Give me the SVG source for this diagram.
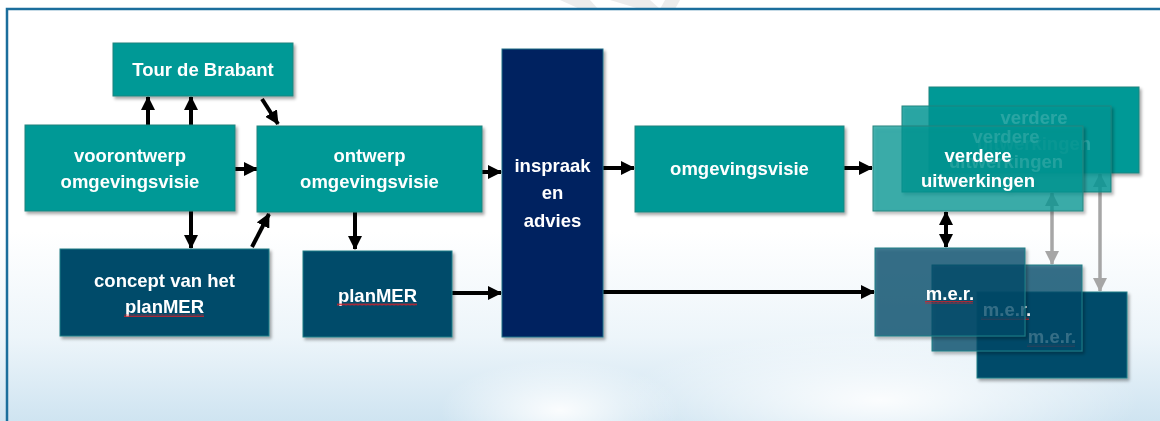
<svg xmlns="http://www.w3.org/2000/svg" width="1160" height="421" viewBox="0 0 1160 421">
<defs>
<style>
.t{font-family:"Liberation Sans",Arial,sans-serif;font-weight:bold;font-size:18.5px;fill:#fff;text-anchor:middle}
.teal{fill:#009996;stroke:#23847f;stroke-width:1}
.dark{fill:#004b6b;stroke:#1f7f86;stroke-width:1}
.navy{fill:#002060;stroke:#1f6f86;stroke-width:1}
.a{stroke:#000;stroke-width:4;fill:none}
.g{stroke:#a6a6a6;stroke-width:3.5;fill:none}
.sq{fill:url(#squig)}
</style>
<linearGradient id="bg" x1="0" y1="0" x2="0" y2="1">
<stop offset="0" stop-color="#ffffff"/>
<stop offset="0.55" stop-color="#ffffff"/>
<stop offset="0.8" stop-color="#edf5fa"/>
<stop offset="1" stop-color="#cfe4f1"/>
</linearGradient>
<radialGradient id="cl" cx="0.5" cy="0.5" r="0.5">
<stop offset="0" stop-color="#ffffff" stop-opacity="0.9"/>
<stop offset="1" stop-color="#ffffff" stop-opacity="0"/>
</radialGradient>
<filter id="sh" x="-10%" y="-10%" width="125%" height="130%">
<feDropShadow dx="2" dy="2.5" stdDeviation="1.5" flood-color="#000" flood-opacity="0.35"/>
</filter>
<marker id="ah" viewBox="0 0 14 14" refX="13" refY="7" markerWidth="14" markerHeight="14" markerUnits="userSpaceOnUse" orient="auto-start-reverse">
<path d="M0,0 L14,7 L0,14 z" fill="#000"/>
</marker>
<marker id="gh" viewBox="0 0 14 14" refX="13" refY="7" markerWidth="14" markerHeight="14" markerUnits="userSpaceOnUse" orient="auto-start-reverse">
<path d="M0,0 L14,7 L0,14 z" fill="#a6a6a6"/>
</marker>
<pattern id="squig" width="4" height="3" patternUnits="userSpaceOnUse">
<polyline points="0,2.5 1,0.5 2,2.5 3,0.5 4,2.5" fill="none" stroke="#d0222a" stroke-width="0.8"/>
</pattern>
</defs>

<!-- background -->
<rect x="0" y="0" width="1160" height="421" fill="url(#bg)"/>
<ellipse cx="880" cy="400" rx="260" ry="70" fill="url(#cl)"/>
<ellipse cx="560" cy="410" rx="120" ry="50" fill="url(#cl)"/>
<path d="M560,0 L580,9 L598,9 L590,0 Z M610,0 L640,9 L660,9 L650,0 Z M665,0 L660,9 L675,9 L680,0 Z" fill="#ececec"/>
<path d="M7,421 L7,9 L1160,9" fill="none" stroke="#1b6e9c" stroke-width="2.5"/>

<!-- connectors -->
<g id="connectors">
<line class="a" x1="148" y1="125" x2="148" y2="97" marker-end="url(#ah)"/>
<line class="a" x1="191" y1="125" x2="191" y2="97" marker-end="url(#ah)"/>
<line class="a" x1="262" y1="99" x2="278" y2="124" marker-end="url(#ah)"/>
<line class="a" x1="235" y1="169" x2="257" y2="169" marker-end="url(#ah)"/>
<line class="a" x1="191" y1="211" x2="191" y2="248" marker-end="url(#ah)"/>
<line class="a" x1="252" y1="247" x2="269" y2="214" marker-end="url(#ah)"/>
<line class="a" x1="355" y1="212" x2="355" y2="249" marker-end="url(#ah)"/>
<line class="a" x1="452" y1="293" x2="501" y2="293" marker-end="url(#ah)"/>
<line class="a" x1="482" y1="172" x2="501" y2="172" marker-end="url(#ah)"/>
<line class="a" x1="603" y1="168" x2="634" y2="168" marker-end="url(#ah)"/>
<line class="a" x1="844" y1="168" x2="872" y2="168" marker-end="url(#ah)"/>
<line class="a" x1="603" y1="292" x2="874" y2="292" marker-end="url(#ah)"/>
<line class="a" x1="946" y1="212" x2="946" y2="247" marker-start="url(#ah)" marker-end="url(#ah)"/>
<line class="g" x1="1052" y1="193" x2="1052" y2="264" marker-start="url(#gh)" marker-end="url(#gh)"/>
<line class="g" x1="1100" y1="174" x2="1100" y2="291" marker-start="url(#gh)" marker-end="url(#gh)"/>
</g>

<!-- nodes -->
<g id="tour" filter="url(#sh)">
<rect class="teal" x="113" y="43" width="180" height="53"/>
<text class="t" x="203" y="76">Tour de Brabant</text>
</g>
<g id="voorontwerp" filter="url(#sh)">
<rect class="teal" x="25" y="125" width="210" height="86"/>
<text class="t" x="130" y="162">voorontwerp</text>
<text class="t" x="130" y="188">omgevingsvisie</text>
</g>
<g id="ontwerp" filter="url(#sh)">
<rect class="teal" x="257" y="126" width="225" height="86"/>
<text class="t" x="369.5" y="162">ontwerp</text>
<text class="t" x="369.5" y="188">omgevingsvisie</text>
</g>
<g id="concept" filter="url(#sh)">
<rect class="dark" x="60" y="249" width="209" height="87"/>
<text class="t" x="164.5" y="287">concept van het</text>
<text class="t" x="164.5" y="313">planMER</text>
<rect class="sq" x="124" y="314" width="80" height="3"/>
</g>
<g id="planmer" filter="url(#sh)">
<rect class="dark" x="303" y="251" width="149" height="86"/>
<text class="t" x="377.5" y="302">planMER</text>
<rect class="sq" x="337" y="303" width="80" height="3"/>
</g>
<g id="inspraak" filter="url(#sh)">
<rect class="navy" x="502" y="49" width="101" height="288"/>
<text class="t" x="552.5" y="172">inspraak</text>
<text class="t" x="552.5" y="199">en</text>
<text class="t" x="552.5" y="227">advies</text>
</g>
<g id="omgevingsvisie" filter="url(#sh)">
<rect class="teal" x="635" y="126" width="209" height="86"/>
<text class="t" x="739.5" y="175">omgevingsvisie</text>
</g>

<g id="verdere3" filter="url(#sh)">
<rect class="teal" x="929" y="87" width="210" height="86"/>
<text class="t" x="1034" y="124">verdere</text>
<text class="t" x="1034" y="150">uitwerkingen</text>
</g>
<g id="verdere2" filter="url(#sh)">
<rect x="902" y="106" width="209" height="86" fill="#009996" fill-opacity="0.78" stroke="#23847f"/>
<text class="t" x="1006" y="143" fill-opacity="0.6">verdere</text>
<text class="t" x="1006" y="168" fill-opacity="0.6">uitwerkingen</text>
</g>
<g id="verdere1" filter="url(#sh)">
<rect x="873" y="126" width="210" height="85" fill="#009996" fill-opacity="0.7" stroke="#23847f"/>
<text class="t" x="978" y="162">verdere</text>
<text class="t" x="978" y="187">uitwerkingen</text>
</g>

<g id="mer3" filter="url(#sh)">
<rect class="dark" x="977" y="292" width="150" height="86"/>
<text class="t" x="1052" y="343">m.e.r.</text>
<rect class="sq" x="1027" y="344" width="48" height="3"/>
</g>
<g id="mer2" filter="url(#sh)">
<rect x="932" y="265" width="150" height="86" fill="#004b6b" fill-opacity="0.72" stroke="#1f7f86"/>
<text class="t" x="1007" y="316">m.e.r.</text>
<rect class="sq" x="981" y="317" width="48" height="3"/>
</g>
<g id="mer1" filter="url(#sh)">
<rect x="875" y="248" width="150" height="88" fill="#004b6b" fill-opacity="0.72" stroke="#1f7f86"/>
<text class="t" x="950" y="300">m.e.r.</text>
<rect class="sq" x="925" y="301" width="48" height="3"/>
</g>
</svg>
